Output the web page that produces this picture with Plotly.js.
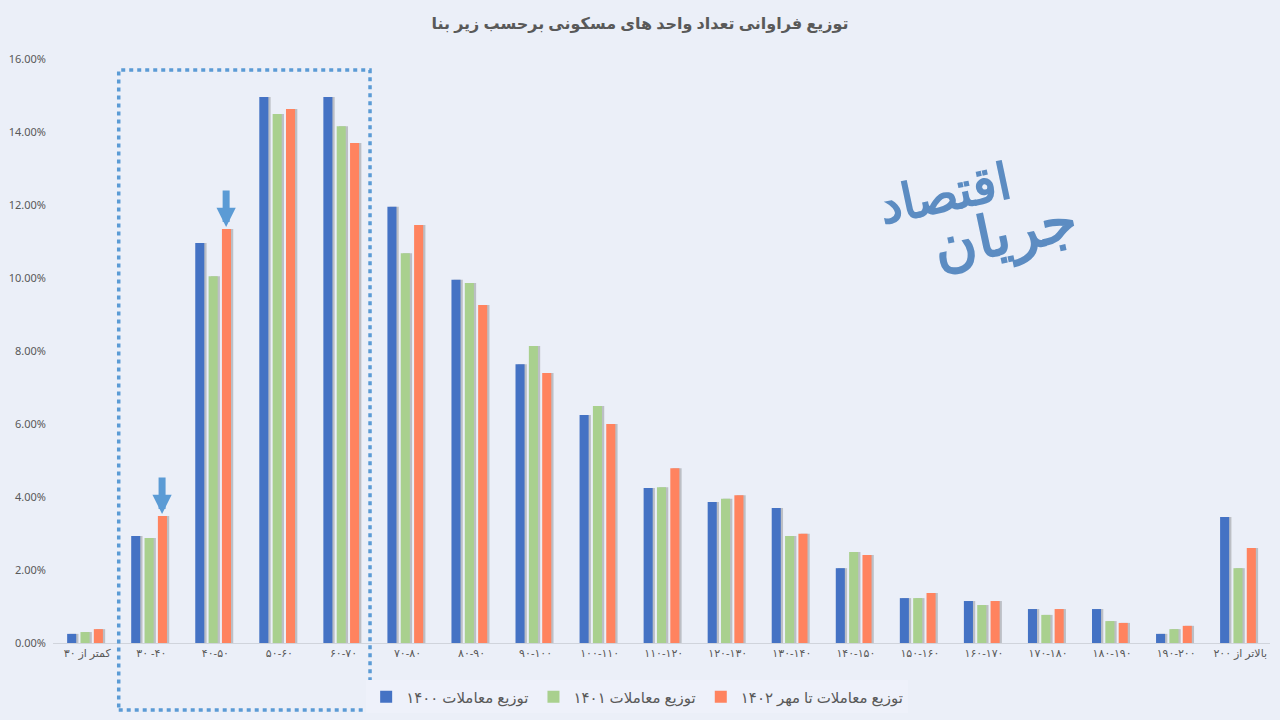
<!DOCTYPE html>
<html>
<head>
<meta charset="utf-8">
<script src="https://cdn.plot.ly/plotly-3.0.1.min.js"></script>
<style>
  html, body { margin: 0; padding: 0; background: #EBEFF8; }
  #chart { width: 1280px; height: 720px; }
</style>
</head>
<body>
<div id="chart"></div>
<script>
// ─── data ────────────────────────────────────────────
var categories = [
  'کمتر از ۳۰', '۳۰ -۴۰', '۴۰-۵۰', '۵۰-۶۰', '۶۰-۷۰', '۷۰-۸۰', '۸۰-۹۰',
  '۹۰-۱۰۰', '۱۰۰-۱۱۰', '۱۱۰-۱۲۰', '۱۲۰-۱۳۰', '۱۳۰-۱۴۰', '۱۴۰-۱۵۰',
  '۱۵۰-۱۶۰', '۱۶۰-۱۷۰', '۱۷۰-۱۸۰', '۱۸۰-۱۹۰', '۱۹۰-۲۰۰', 'بالاتر از ۲۰۰'
];
var seriesNames = ['توزیع معاملات ۱۴۰۰', 'توزیع معاملات ۱۴۰۱', 'توزیع معاملات تا مهر ۱۴۰۲'];
var share1400 = [0.25, 2.93, 10.96, 14.96, 14.96, 11.95, 9.95, 7.64, 6.25, 4.25, 3.86, 3.70, 2.05, 1.23, 1.15, 0.93, 0.93, 0.25, 3.45];
var share1401 = [0.30, 2.88, 10.05, 14.49, 14.16, 10.68, 9.86, 8.14, 6.49, 4.27, 3.95, 2.93, 2.49, 1.23, 1.04, 0.77, 0.60, 0.38, 2.05];
var share1402 = [0.38, 3.48, 11.34, 14.63, 13.70, 11.45, 9.26, 7.40, 6.00, 4.79, 4.05, 2.99, 2.41, 1.37, 1.15, 0.93, 0.55, 0.47, 2.60];
var seriesColors = ['#4472C4', '#A9D08E', '#FF835F'];

var FONT = 'Noto Sans, DejaVu Sans, sans-serif';
var TEXT = '#595959';
var N = categories.length;

// svg text is laid out LTR, so wrap persian words in an RTL embedding
// (number-only ranges like ۳۰-۴۰ are left alone)
function rtl(s) { return /^[\u0600-\u06EF]/.test(s) ? '\u202B' + s + '\u202C' : s; }

var allSeries = [share1400, share1401, share1402];
var traces = [];

// soft drop shadow: same bars on the base axis, whose range is nudged so they sit ~2px right
allSeries.forEach(function (vals) {
  traces.push({
    type: 'bar', x: categories, y: vals, xaxis: 'x', yaxis: 'y',
    marker: { color: 'rgba(80,80,80,0.30)', line: { width: 0 } },
    showlegend: false, hoverinfo: 'skip'
  });
});

// real bars on the overlaying axis
allSeries.forEach(function (vals, i) {
  traces.push({
    type: 'bar', name: rtl(seriesNames[i]),
    x: categories, y: vals, xaxis: 'x2', yaxis: 'y',
    marker: { color: seriesColors[i], line: { width: 0 } },
    hovertemplate: '%{x}: %{y:.2f}%<extra></extra>'
  });
});

// arrows point at the 1402 bars of the two small-unit groups
function arrowAt(idx) {
  return {
    x: categories[idx], y: share1402[idx], xref: 'x2', yref: 'y',
    xshift: 13, yshift: 2, text: '', showarrow: true,
    ax: 0, ay: -38, arrowhead: 2, arrowsize: 0.55, arrowwidth: 7,
    arrowcolor: '#5B9BD5', standoff: 0
  };
}

var layout = {
  width: 1280, height: 720,
  paper_bgcolor: '#EBEFF8', plot_bgcolor: '#EBEFF8',
  margin: { l: 53, r: 10, t: 59, b: 77, autoexpand: false },
  font: { family: FONT, color: TEXT, size: 11 },
  title: {
    text: rtl('توزیع فراوانی تعداد واحد های مسکونی برحسب زیر بنا'),
    x: 0.5, xanchor: 'center', y: 0.968, yanchor: 'middle',
    font: { family: FONT, size: 16, color: TEXT, weight: 'bold' }
  },
  barmode: 'group', bargap: 0.375, bargroupgap: 0.32,
  xaxis: {
    type: 'category', range: [-0.535, N - 0.535],
    showgrid: false, zeroline: false,
    showline: true, linecolor: '#D0D4DC', linewidth: 1,
    ticks: '', tickfont: { size: 11, color: TEXT },
    tickvals: categories, ticktext: categories.map(rtl)
  },
  xaxis2: {
    type: 'category', overlaying: 'x', range: [-0.5, N - 0.5],
    showgrid: false, zeroline: false, showline: false, showticklabels: false
  },
  yaxis: {
    range: [0, 16], dtick: 2, tickformat: '.2f', ticksuffix: '%',
    showgrid: false, zeroline: false, showline: false,
    ticklabelstandoff: 6,
    tickfont: { size: 11, color: TEXT }
  },
  showlegend: true,
  legend: {
    orientation: 'h', x: 0.48, xanchor: 'center',
    yref: 'container', y: 0.032, yanchor: 'middle',
    bgcolor: '#EEF1FA', font: { size: 15, color: TEXT },
    itemwidth: 30
  },
  shapes: [{
    type: 'rect', xref: 'paper', yref: 'paper',
    x0: 0.054, x1: 0.2605, y0: -0.1147, y1: 0.981,
    line: { color: '#5B9BD5', width: 3.5, dash: '4px,4px' }
  }],
  annotations: [
    arrowAt(1), arrowAt(2),
    {
      text: rtl('اقتصاد'), xref: 'paper', yref: 'paper', x: 0.7325, y: 0.77,
      xanchor: 'center', yanchor: 'middle',
      showarrow: false, textangle: -12,
      font: { family: 'DejaVu Serif, serif', size: 50, color: '#5C8CC2', weight: 'bold' }
    },
    {
      text: rtl('جریان'), xref: 'paper', yref: 'paper', x: 0.7825, y: 0.70,
      xanchor: 'center', yanchor: 'middle',
      showarrow: false, textangle: -12,
      font: { family: 'DejaVu Serif, serif', size: 58, color: '#5C8CC2', weight: 'bold' }
    }
  ]
};

Plotly.newPlot('chart', traces, layout, { displayModeBar: false, responsive: false });
</script>
</body>
</html>
